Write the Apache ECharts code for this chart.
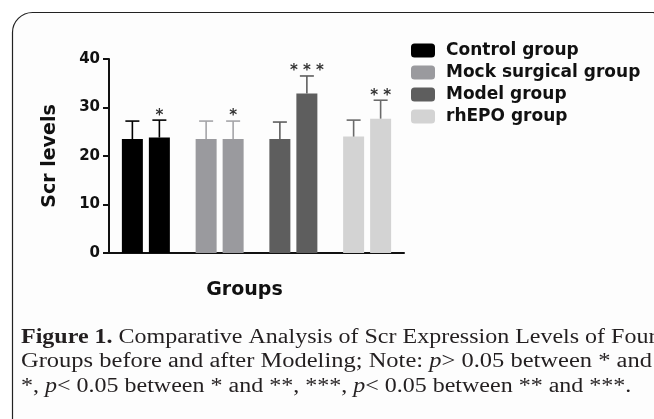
<!DOCTYPE html>
<html>
<head>
<meta charset="utf-8">
<title>Scr levels</title>
<style>
  html, body { margin: 0; padding: 0; background: #fff; }
  #main { width: 654px; height: 419px; }
</style>
</head>
<body>
<div id="main"></div>
<script src="https://cdn.jsdelivr.net/npm/echarts@6/dist/echarts.min.js"></script>
<script>
// groups (legend + x categories)
var groups = ['Control group', 'Mock surgical group', 'Model group', 'rhEPO group'];
// mean Scr, before / after modeling
var before = [23.5, 23.5, 23.5, 24.0];
var after = [23.8, 23.5, 32.9, 27.7];
// SD (upper error bar only)
var beforeSd = [3.7, 3.7, 3.5, 3.4];
var afterSd = [3.6, 3.7, 3.6, 3.8];
// significance marks above the "after" bars
var marks = ['*', '*', '* * *', '* *'];
var yTicks = [0, 10, 20, 30, 40];

var barColors = ['#000000', '#9a9a9e', '#5e5e5e', '#d3d3d3'];
var errColors = ['#000000', '#a4a4a8', '#5e5e5e', '#6a6a6a'];
var BAR_W = 21, BAR_GAP = 6;
var SANS = 'DejaVu Sans';
var SERIF = 'Liberation Serif';

var myChart = echarts.init(document.getElementById('main'));

// rows for the error-bar series
var errRows = [];
groups.forEach(function (g, i) {
  errRows.push({ cat: i, mean: before[i], upper: before[i] + beforeSd[i], side: -1, mark: '' });
  errRows.push({ cat: i, mean: after[i], upper: after[i] + afterSd[i], side: 1, mark: marks[i] });
});

function renderErr(params, api) {
  var e = errRows[params.dataIndex];
  var base = api.coord([e.cat, e.mean]);
  var top = api.coord([e.cat, e.upper]);
  var x = base[0] + e.side * (BAR_W + BAR_GAP) / 2;
  var col = errColors[e.cat];
  var kids = [
    { type: 'line', shape: { x1: x, y1: base[1], x2: x, y2: top[1] }, style: { stroke: col, lineWidth: 1.6 } },
    { type: 'line', shape: { x1: x - 7, y1: top[1], x2: x + 7, y2: top[1] }, style: { stroke: col, lineWidth: 1.6 } }
  ];
  if (e.mark) {
    kids.push({
      type: 'text',
      style: {
        text: e.mark, x: x, y: top[1] + 3,
        textAlign: 'center', textVerticalAlign: 'bottom',
        fontSize: 15, fontWeight: 'bold', fontFamily: SANS, fill: '#333'
      }
    });
  }
  return { type: 'group', children: kids };
}

function barData(vals) {
  return vals.map(function (v, i) {
    return { value: v, itemStyle: { color: barColors[i] } };
  });
}

// legend-only series (no data)
var legendSeries = groups.map(function (g, i) {
  return {
    name: g, type: 'line', data: [],
    itemStyle: { color: barColors[i] }, lineStyle: { color: barColors[i] }
  };
});

var option = {
  backgroundColor: '#ffffff',
  animation: false,
  grid: { left: 109, right: 250, top: 59, bottom: 166 },
  legend: {
    orient: 'vertical',
    left: 406, top: 37,
    itemWidth: 24, itemHeight: 14, itemGap: 5,
    icon: 'roundRect',
    data: groups,
    textStyle: { fontFamily: SANS, fontWeight: 'bold', fontSize: 17, color: '#111', lineHeight: 17, padding: [0, 0, 0, 6] }
  },
  xAxis: {
    type: 'category',
    data: groups,
    name: 'Groups',
    nameLocation: 'middle',
    nameGap: 28,
    nameTextStyle: { fontFamily: SANS, fontWeight: 'bold', fontSize: 19, color: '#111', padding: [0, 24, 0, 0] },
    axisLine: { lineStyle: { color: '#111', width: 2 } },
    axisTick: { alignWithLabel: true, length: 6, lineStyle: { color: '#111', width: 2 } },
    axisLabel: { show: false },
    splitLine: { show: false }
  },
  yAxis: {
    type: 'value',
    min: yTicks[0], max: yTicks[yTicks.length - 1], interval: 10,
    name: 'Scr levels',
    nameLocation: 'middle',
    nameGap: 49,
    nameTextStyle: { fontFamily: SANS, fontWeight: 'bold', fontSize: 19, color: '#111' },
    axisLine: { show: true, lineStyle: { color: '#111', width: 2 } },
    axisTick: { show: true, length: 6, lineStyle: { color: '#111', width: 2 } },
    axisLabel: { margin: 9, fontFamily: SANS, fontWeight: 'bold', fontSize: 15, color: '#111' },
    splitLine: { show: false }
  },
  graphic: [
    {
      type: 'rect', z: -10, silent: true,
      shape: { x: 12.5, y: 12.5, width: 660, height: 430, r: 20 },
      style: { fill: '#fdfdfd', stroke: '#222', lineWidth: 1.2 }
    },
    {
      type: 'text', x: 21, y: 338, scaleX: 1.2,
      style: {
        text: '{b|Figure 1.} Comparative Analysis of Scr Expression Levels of Four',
        x: 0, y: 0, textVerticalAlign: 'middle',
        fontFamily: SERIF, fontSize: 20, fill: '#231f20',
        rich: {
          b: { fontFamily: SERIF, fontSize: 20, fontWeight: 'bold', fill: '#231f20' }
        }
      }
    },
    {
      type: 'text', x: 21, y: 362, scaleX: 1.225,
      style: {
        text: 'Groups before and after Modeling; Note: {i|p}> 0.05 between * and',
        x: 0, y: 0, textVerticalAlign: 'middle',
        fontFamily: SERIF, fontSize: 20, fill: '#231f20',
        rich: {
          i: { fontFamily: SERIF, fontSize: 20, fontStyle: 'italic', fill: '#231f20' }
        }
      }
    },
    {
      type: 'text', x: 21, y: 387, scaleX: 1.2,
      style: {
        text: '*, {i|p}< 0.05 between * and **, ***, {i|p}< 0.05 between ** and ***.',
        x: 0, y: 0, textVerticalAlign: 'middle',
        fontFamily: SERIF, fontSize: 20, fill: '#231f20',
        rich: {
          i: { fontFamily: SERIF, fontSize: 20, fontStyle: 'italic', fill: '#231f20' }
        }
      }
    }
  ],
  series: legendSeries.concat([
    {
      name: 'Before', type: 'bar', data: barData(before),
      barWidth: BAR_W, barGap: (BAR_GAP / BAR_W * 100) + '%'
    },
    {
      name: 'After', type: 'bar', data: barData(after),
      barWidth: BAR_W, barGap: (BAR_GAP / BAR_W * 100) + '%'
    },
    {
      name: 'err', type: 'custom', z: 5,
      renderItem: renderErr,
      encode: { x: 0, y: [1, 2] },
      data: errRows.map(function (e) { return [e.cat, e.mean, e.upper]; })
    }
  ])
};

myChart.setOption(option);
</script>
</body>
</html>
